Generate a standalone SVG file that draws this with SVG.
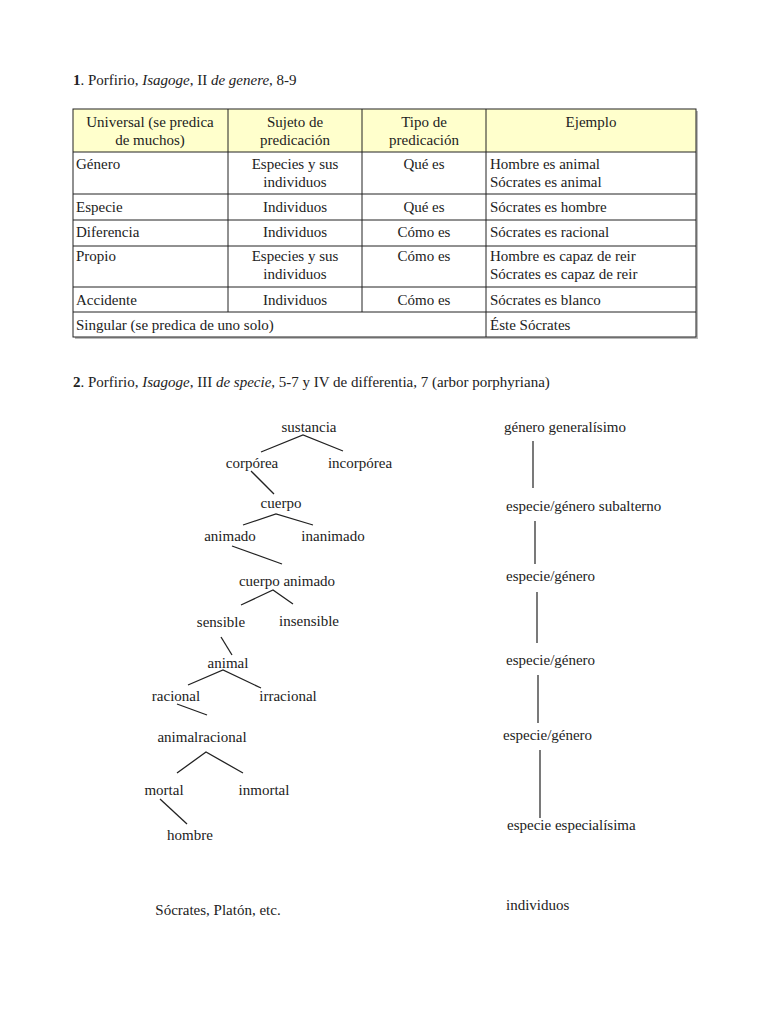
<svg xmlns="http://www.w3.org/2000/svg" width="768" height="1024" viewBox="0 0 768 1024">
<style>
text{font-family:"Liberation Serif","Times New Roman",serif;font-size:15px;fill:#222}
.c{text-anchor:middle}
.grid{stroke:#222;stroke-width:1;fill:none}
.edge{stroke:#222;stroke-width:1.3;fill:none}
.vline{stroke:#333;stroke-width:1.3}
</style>
<rect width="768" height="1024" fill="#fff"/>
<g id="title1"><text x="73" y="85"><tspan font-weight="bold">1</tspan>. Porfirio, <tspan font-style="italic">Isagoge</tspan>, II <tspan font-style="italic">de genere</tspan>, 8-9</text></g>
<g id="table">
<rect x="75" y="111" width="623" height="228" fill="#bbb"/>
<rect x="73" y="109" width="623" height="228" fill="#fff"/>
<rect x="73" y="109" width="623" height="43" fill="#ffffcc"/>
<rect x="73" y="109" width="623" height="228" class="grid"/>
<path class="grid" d="M73 152H696M73 194H696M73 220H696M73 246H696M73 287H696M73 312H696M228 109V312M362 109V312M486 109V337"/>
<text class="c" x="150" y="127">Universal (se predica</text>
<text class="c" x="150" y="145">de muchos)</text>
<text class="c" x="295" y="127">Sujeto de</text>
<text class="c" x="295" y="145">predicación</text>
<text class="c" x="424" y="127">Tipo de</text>
<text class="c" x="424" y="145">predicación</text>
<text class="c" x="591" y="127">Ejemplo</text>
<text x="76" y="169">Género</text>
<text class="c" x="295" y="169">Especies y sus</text>
<text class="c" x="295" y="187">individuos</text>
<text class="c" x="424" y="169">Qué es</text>
<text x="490" y="169">Hombre es animal</text>
<text x="490" y="187">Sócrates es animal</text>
<text x="76" y="212">Especie</text>
<text class="c" x="295" y="212">Individuos</text>
<text class="c" x="424" y="212">Qué es</text>
<text x="490" y="212">Sócrates es hombre</text>
<text x="76" y="237">Diferencia</text>
<text class="c" x="295" y="237">Individuos</text>
<text class="c" x="424" y="237">Cómo es</text>
<text x="490" y="237">Sócrates es racional</text>
<text x="76" y="261">Propio</text>
<text class="c" x="295" y="261">Especies y sus</text>
<text class="c" x="295" y="279">individuos</text>
<text class="c" x="424" y="261">Cómo es</text>
<text x="490" y="261">Hombre es capaz de reir</text>
<text x="490" y="279">Sócrates es capaz de reir</text>
<text x="76" y="305">Accidente</text>
<text class="c" x="295" y="305">Individuos</text>
<text class="c" x="424" y="305">Cómo es</text>
<text x="490" y="305">Sócrates es blanco</text>
<text x="76" y="330">Singular (se predica de uno solo)</text>
<text x="490" y="330">Éste Sócrates</text>
</g>
<g id="title2"><text x="73" y="387"><tspan font-weight="bold">2</tspan>. Porfirio, <tspan font-style="italic">Isagoge</tspan>, III <tspan font-style="italic">de specie</tspan>, 5-7 y IV de differentia, 7 (arbor porphyriana)</text></g>
<g id="connectors">
<path class="edge" d="M261 452L303 435L343 451"/>
<path class="edge" d="M251 471L274 494"/>
<path class="edge" d="M243 525L276 514L313 525"/>
<path class="edge" d="M232 546L282 564"/>
<path class="edge" d="M241 605L273 590L293 604"/>
<path class="edge" d="M221 637L232 655"/>
<path class="edge" d="M188 685L223 670L261 688"/>
<path class="edge" d="M177 704L207 715"/>
<path class="edge" d="M177 773L206 752L243 773"/>
<path class="edge" d="M160 799L187 824"/>
<path class="vline" d="M533 441V488M535 521V564M537 592V643M538 675V723M540 750V818"/>
</g>
<g id="n-sustancia"><text class="c" x="309" y="432">sustancia</text></g>
<g id="n-corporea"><text class="c" x="252" y="468">corpórea</text></g>
<g id="n-incorporea"><text class="c" x="360" y="468">incorpórea</text></g>
<g id="n-cuerpo"><text class="c" x="281" y="508">cuerpo</text></g>
<g id="n-animado"><text class="c" x="230" y="541">animado</text></g>
<g id="n-inanimado"><text class="c" x="333" y="541">inanimado</text></g>
<g id="n-cuerpo-animado"><text class="c" x="287" y="586">cuerpo animado</text></g>
<g id="n-sensible"><text class="c" x="221" y="627">sensible</text></g>
<g id="n-insensible"><text class="c" x="309" y="626">insensible</text></g>
<g id="n-animal"><text class="c" x="228" y="668">animal</text></g>
<g id="n-racional"><text class="c" x="176" y="701">racional</text></g>
<g id="n-irracional"><text class="c" x="288" y="701">irracional</text></g>
<g id="n-animalracional"><text class="c" x="202" y="742">animalracional</text></g>
<g id="n-mortal"><text class="c" x="164" y="795">mortal</text></g>
<g id="n-inmortal"><text class="c" x="264" y="795">inmortal</text></g>
<g id="n-hombre"><text class="c" x="190" y="840">hombre</text></g>
<g id="n-socrates"><text class="c" x="218" y="915">Sócrates, Platón, etc.</text></g>
<g id="r-genero-generalisimo"><text x="504" y="432">género generalísimo</text></g>
<g id="r-subalterno"><text x="506" y="511">especie/género subalterno</text></g>
<g id="r-eg1"><text x="506" y="581">especie/género</text></g>
<g id="r-eg2"><text x="506" y="665">especie/género</text></g>
<g id="r-eg3"><text x="503" y="740">especie/género</text></g>
<g id="r-especialisima"><text x="507" y="830">especie especialísima</text></g>
<g id="r-individuos"><text x="506" y="910">individuos</text></g>
</svg>
